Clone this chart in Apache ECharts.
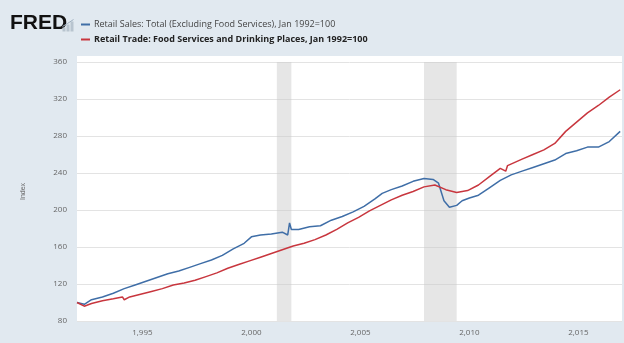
<!DOCTYPE html>
<html><head><meta charset="utf-8">
<script src="https://cdn.jsdelivr.net/npm/echarts@6/dist/echarts.min.js"></script>
<style>html,body{margin:0;padding:0;background:#e1e9f0}#c{width:624px;height:343px}</style>
</head><body><div id="c"></div>
<script>
const seriesNames = [
  'Retail Sales: Total (Excluding Food Services), Jan 1992=100',
  'Retail Trade: Food Services and Drinking Places, Jan 1992=100'
];
const xTickYears = [1995, 2000, 2005, 2010, 2015];
const recessions = [['2001-03', '2001-11'], ['2007-12', '2009-06']];

const blueDates = ['1992-01','1992-05','1992-09','1993-03','1993-09','1994-03','1994-09','1995-03','1995-09','1996-03','1996-09','1997-03','1997-09','1998-03','1998-09','1999-03','1999-09','2000-01','2000-06','2000-12','2001-06','2001-09','2001-10','2001-11','2002-03','2002-09','2003-03','2003-09','2004-03','2004-09','2005-03','2005-09','2006-01','2006-06','2006-12','2007-06','2007-12','2008-05','2008-08','2008-11','2009-02','2009-06','2009-09','2010-01','2010-06','2010-12','2011-06','2011-12','2012-06','2012-12','2013-06','2013-12','2014-06','2014-12','2015-06','2015-12','2016-06','2016-12'];
const blueValues = [100,98,103,106,110,115,119,123,127,131,134,138,142,146,151,158,164,171,173,174,176,173,186,179,179,182,183,189,193,198,204,212,218,222,226,231,234,233,229,210,203,205,210,213,216,224,232,238,242,246,250,254,261,264,268,268,274,285];

const redDates = ['1992-01','1992-05','1992-09','1993-03','1993-09','1994-02','1994-03','1994-06','1994-12','1995-06','1995-12','1996-06','1996-12','1997-06','1997-12','1998-06','1998-12','1999-06','1999-12','2000-06','2000-12','2001-06','2001-12','2002-06','2002-12','2003-06','2003-12','2004-06','2004-12','2005-06','2005-12','2006-06','2006-12','2007-06','2007-12','2008-06','2008-12','2009-06','2009-12','2010-06','2010-12','2011-06','2011-09','2011-10','2012-06','2012-12','2013-06','2013-12','2014-06','2014-12','2015-06','2015-12','2016-06','2016-12'];
const redValues = [100,96,99,102,104,106,103,106,109,112,115,119,121,124,128,132,137,141,145,149,153,157,161,164,168,173,179,186,192,199,205,211,216,220,225,227,222,219,221,227,236,245,242,248,255,260,265,272,285,295,305,313,322,330];

const toYear = s => +s.slice(0, 4) + (+s.slice(5, 7) - 1) / 12;
const pairs = (d, v) => d.map((x, i) => [toYear(x), v[i]]);

const GL = 77, GT = 62, GR = 2, GB = 22;
const chart = echarts.init(document.getElementById('c'));
chart.setOption({
  backgroundColor: '#e1e9f0',
  animation: false,
  graphic: [
    { type: 'rect', shape: { x: GL, y: 56, width: 624 - GL - GR, height: 343 - GB - 56 }, style: { fill: '#ffffff' }, z: -100 },
    { type: 'text', left: 10, top: 13, style: { text: 'FRED', font: 'bold 21px "Liberation Sans", Arial, sans-serif', fill: '#111' } },
    { type: 'group', left: 60, top: 17, children: [
      { type: 'rect', shape: { x: 0, y: 8, width: 3, height: 4 }, style: { fill: '#b8c4cf' } },
      { type: 'rect', shape: { x: 4, y: 5, width: 3, height: 7 }, style: { fill: '#b8c4cf' } },
      { type: 'rect', shape: { x: 8, y: 2, width: 3, height: 10 }, style: { fill: '#b8c4cf' } },
      { type: 'polyline', shape: { points: [[0, 7], [5, 4], [11, 0]] }, style: { stroke: '#9fb0c0', lineWidth: 1, fill: null } }
    ] }
  ],
  legend: {
    orient: 'vertical', left: 76, top: 15, itemGap: 6,
    itemWidth: 9, itemHeight: 2, icon: 'rect',
    textStyle: { fontSize: 9, color: '#444', fontFamily: '"Open Sans", sans-serif', padding: [0, 0, 0, -1] },
    data: [
      { name: seriesNames[0] },
      { name: seriesNames[1], textStyle: { fontWeight: 'bold', color: '#222' } }
    ]
  },
  grid: { left: GL, right: GR, top: GT, bottom: GB },
  xAxis: {
    type: 'value', min: 1992, max: 2017,
    axisLine: { show: false }, splitLine: { show: false },
    axisTick: { show: false },
    axisLabel: { customValues: xTickYears, fontSize: 8, color: '#666', margin: 8, fontFamily: '"Open Sans", sans-serif' }
  },
  yAxis: {
    type: 'value', min: 80, max: 360, interval: 40,
    name: 'Index', nameLocation: 'middle', nameGap: 50, nameRotate: 90,
    nameTextStyle: { fontSize: 7, color: '#666' },
    axisLine: { show: false }, axisTick: { show: false },
    axisLabel: { fontSize: 8, color: '#666', margin: 10, fontFamily: '"Open Sans", sans-serif' },
    splitLine: { lineStyle: { color: '#e3e3e3', width: 1 } }
  },
  series: [
    {
      name: seriesNames[0], type: 'line', data: pairs(blueDates, blueValues),
      showSymbol: false, lineStyle: { color: '#3f6ea7', width: 1.5 }, itemStyle: { color: '#3f6ea7' },
      markArea: {
        silent: true, itemStyle: { color: 'rgba(200,200,200,0.45)' },
        data: recessions.map(r => [{ xAxis: toYear(r[0]) }, { xAxis: toYear(r[1]) }])
      }
    },
    {
      name: seriesNames[1], type: 'line', data: pairs(redDates, redValues),
      showSymbol: false, lineStyle: { color: '#c8363e', width: 1.5 }, itemStyle: { color: '#c8363e' }
    }
  ]
});
</script></body></html>
